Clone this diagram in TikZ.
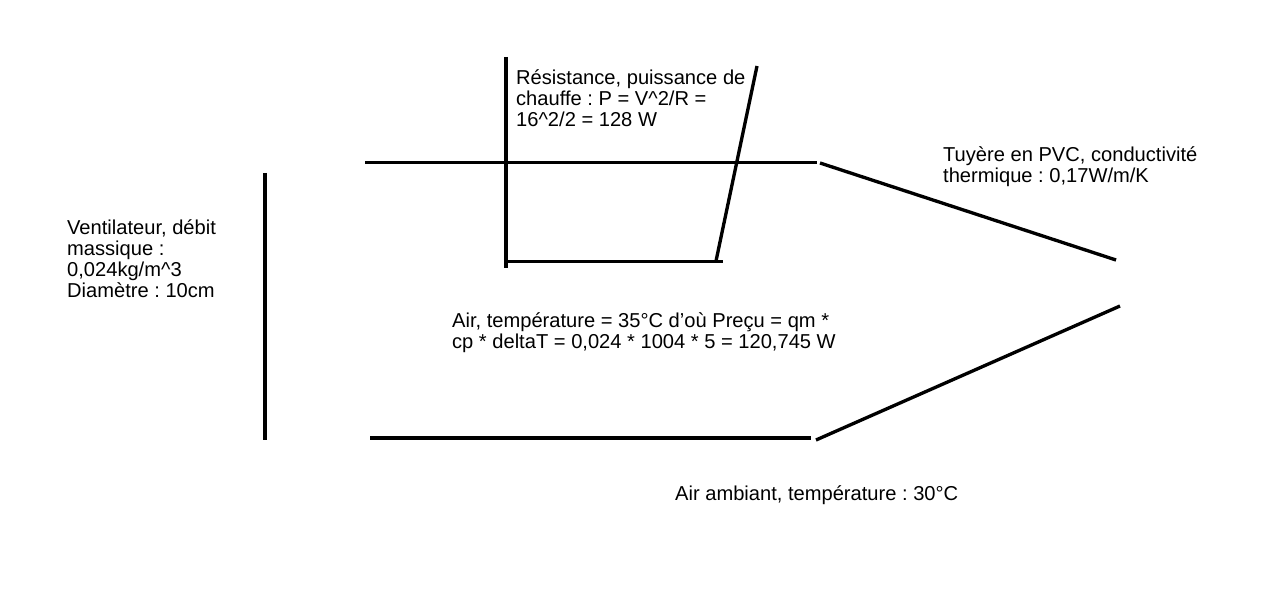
\documentclass[tikz,border=0pt]{standalone}
\usepackage{fontspec}
\setmainfont{Liberation Sans}
\frenchspacing
\begin{document}
\begin{tikzpicture}[x=0.02cm,y=-0.02cm,line width=1.9pt,
every node/.style={inner sep=0pt,anchor=north west,align=left,font=\fontsize{11.45pt}{11.9pt}\selectfont}]
\useasboundingbox(0,0)rectangle(1280,597);
% ventilateur
\draw(265,173)--(265,440);
% tuyere
\draw(365,162.5)--(817,162.5);
\draw(820,163)--(1116,260);
\draw(370,438)--(811,438);
\draw(816,440)--(1120,306);
% resistance
\draw(506,57)--(506,268);
\draw(506,261.5)--(723,261.5);
\draw(716,261)--(757,66);
% textes
\node(ventilateur)at(65.5,218){Ventilateur, débit\\massique :\\0,024kg/m\textasciicircum3\\Diamètre : 10cm};
\node(resistance)at(514.5,68){Résistance, puissance de\\chauffe : P = V\textasciicircum2/R =\\16\textasciicircum2/2 = 128 W};
\node(tuyere)at(941.5,145){Tuyère en PVC, conductivité\\thermique : 0,17W/m/K};
\node(air)at(450.5,311){Air, température = 35°C d'où Preçu = qm *\\cp * deltaT = 0,024 * 1004 * 5 = 120,745 W};
\node(ambiant)at(673.5,484){Air ambiant, température : 30°C};
\end{tikzpicture}
\end{document}
